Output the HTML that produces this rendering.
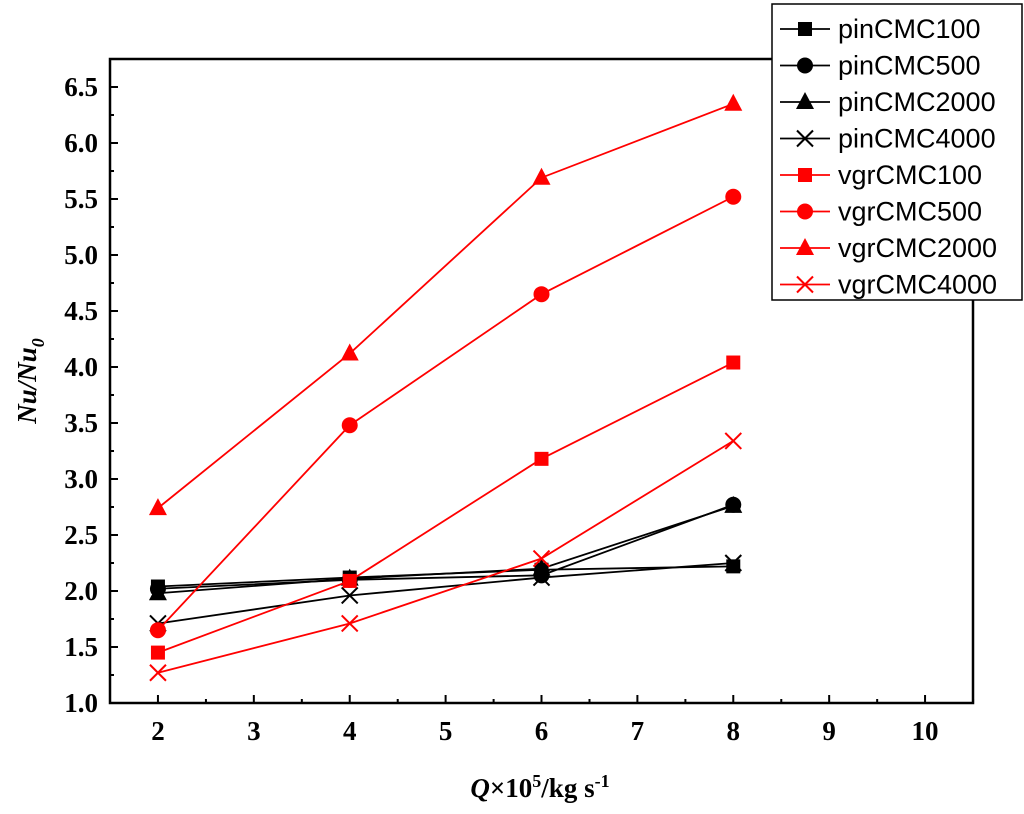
<!DOCTYPE html>
<html><head><meta charset="utf-8"><style>
html,body{margin:0;padding:0;background:#fff;width:1024px;height:814px;overflow:hidden}
svg{display:block}
</style></head><body>
<svg id="chart" width="1024" height="814" xmlns="http://www.w3.org/2000/svg" font-family="'Liberation Serif', serif"></svg>
<script>
const xTicks=[2,3,4,5,6,7,8,9,10];
const yTicks=[1.0,1.5,2.0,2.5,3.0,3.5,4.0,4.5,5.0,5.5,6.0,6.5];
const xValues=[2,4,6,8];
const seriesNames=["pinCMC100","pinCMC500","pinCMC2000","pinCMC4000","vgrCMC100","vgrCMC500","vgrCMC2000","vgrCMC4000"];
const pin100=[2.04,2.12,2.19,2.22];
const pin500=[2.02,2.10,2.14,2.77];
const pin2000=[1.98,2.11,2.20,2.76];
const pin4000=[1.71,1.96,2.12,2.25];
const vgr100=[1.45,2.09,3.18,4.04];
const vgr500=[1.65,3.48,4.65,5.52];
const vgr2000=[2.74,4.12,5.69,6.35];
const vgr4000=[1.27,1.71,2.29,3.34];
const seriesValues=[pin100,pin500,pin2000,pin4000,vgr100,vgr500,vgr2000,vgr4000];
const seriesColors=["#000","#000","#000","#000","#f00","#f00","#f00","#f00"];
const seriesMarkers=["square","circle","triangle","cross","square","circle","triangle","cross"];

const svg=document.getElementById('chart');
const NS="http://www.w3.org/2000/svg";
const L=110,R=973,T=59,B=703;
const xMin=1.5,xMax=10.5,yMin=1.0,yMax=6.75;
const sx=v=>L+(v-xMin)/(xMax-xMin)*(R-L);
const sy=v=>B-(v-yMin)/(yMax-yMin)*(B-T);
function el(tag,attrs,parent){const e=document.createElementNS(NS,tag);for(const k in attrs)e.setAttribute(k,attrs[k]);(parent||svg).appendChild(e);return e;}

const frame=el('rect',{x:L,y:T,width:R-L,height:B-T,fill:'none',stroke:'#000','stroke-width':2.5});



const xg=el('g',{});


xTicks.forEach(v=>{
  const x=sx(v);
  el('line',{x1:x,y1:B,x2:x,y2:B-8,stroke:'#000','stroke-width':2},xg);
  el('line',{x1:x+48,y1:B,x2:x+48,y2:B-4,stroke:'#000','stroke-width':2},xg);
  const t=el('text',{x:x,y:B+37,'text-anchor':'middle','font-size':27,'font-weight':'bold'},xg);
  t.textContent=v;
  
  
});
el('line',{x1:sx(1.5),y1:B,x2:sx(1.5),y2:B-4,stroke:'#000','stroke-width':2},xg);
const yg=el('g',{});


yTicks.forEach(v=>{
  const y=sy(v);
  el('line',{x1:L,y1:y,x2:L+8,y2:y,stroke:'#000','stroke-width':2},yg);
  el('line',{x1:L,y1:y-28,x2:L+4,y2:y-28,stroke:'#000','stroke-width':2},yg);
  const t=el('text',{x:L-12,y:y+9,'text-anchor':'end','font-size':27,'font-weight':'bold'},yg);
  t.textContent=v.toFixed(1);
  
  
});
const xt=el('text',{x:540,y:797,'text-anchor':'middle','font-size':27,'font-weight':'bold'});
xt.innerHTML='<tspan font-style="italic">Q</tspan>×10<tspan dy="-10" font-size="18">5</tspan><tspan dy="10">/kg s</tspan><tspan dy="-10" font-size="18">-1</tspan>';


const yt=el('text',{x:0,y:0,'text-anchor':'middle','font-size':27,'font-weight':'bold','font-style':'italic',transform:'translate(36,381) rotate(-90)'});
yt.innerHTML='Nu/Nu<tspan dy="8" font-size="18">0</tspan>';



function marker(g,type,x,y,c){
  if(type==='square')el('rect',{x:x-7,y:y-7,width:14,height:14,fill:c},g);
  else if(type==='circle')el('circle',{cx:x,cy:y,r:8,fill:c},g);
  else if(type==='triangle')el('polygon',{points:`${x},${y-10} ${x-9},${y+7} ${x+9},${y+7}`,fill:c},g);
  else {el('line',{x1:x-8,y1:y-8,x2:x+8,y2:y+8,stroke:c,'stroke-width':2},g);el('line',{x1:x-8,y1:y+8,x2:x+8,y2:y-8,stroke:c,'stroke-width':2},g);}
}
seriesValues.forEach((vals,i)=>{
  const g=el('g',{});
  
  
  const pts=vals.map((v,j)=>sx(xValues[j])+','+sy(v)).join(' ');
  el('polyline',{points:pts,fill:'none',stroke:seriesColors[i],'stroke-width':1.8},g);
  vals.forEach((v,j)=>marker(g,seriesMarkers[i],sx(xValues[j]),sy(v),seriesColors[i]));
});

const lg=el('g',{});


el('rect',{x:772,y:4,width:250,height:296,fill:'#fff',stroke:'#000','stroke-width':1.5},lg);
seriesNames.forEach((n,i)=>{
  const y=29+i*36.5;
  const e=el('g',{},lg);
  
  
  el('line',{x1:780,y1:y,x2:830,y2:y,stroke:seriesColors[i],'stroke-width':1.8},e);
  marker(e,seriesMarkers[i],805,y,seriesColors[i]);
  const t=el('text',{x:838,y:y+9,'font-size':27,'font-family':"'Liberation Sans', sans-serif"},e);
  t.textContent=n;
});
</script>
</body></html>
